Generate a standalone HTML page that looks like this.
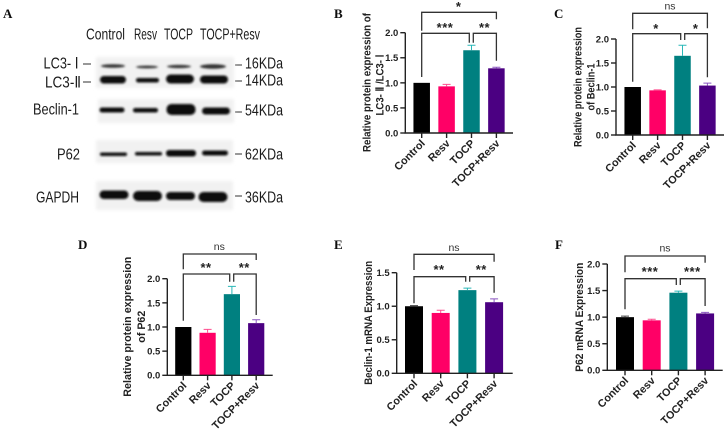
<!DOCTYPE html>
<html lang="en">
<head>
<meta charset="utf-8">
<title>Western blot and expression bar charts</title>
<style>
html,body{margin:0;padding:0;background:#fff;width:728px;height:429px;overflow:hidden}
svg{display:block}
text{font-family:"Liberation Sans",sans-serif}
.blot-label{font-family:"Liberation Sans Narrow","Liberation Sans",sans-serif;fill:#1a1a1a;font-size:16px;text-anchor:middle;dominant-baseline:central}
.letter{font-family:"Liberation Serif",serif;font-weight:bold;font-size:13px;fill:#111}
.tick{font-weight:bold;font-size:9.5px;fill:#222;text-anchor:end}
.cat{font-weight:bold;font-size:10.8px;fill:#222;text-anchor:end}
.title{font-weight:bold;font-size:11px;fill:#222;text-anchor:middle}
.sig{fill:#222;text-anchor:middle}
.ns{fill:#333;text-anchor:middle}
</style>
</head>
<body>
<svg id="figure" xmlns="http://www.w3.org/2000/svg" width="728" height="429" viewBox="0 0 728 429">
  <defs>
    <filter id="soft" x="-30%" y="-100%" width="160%" height="300%"><feGaussianBlur stdDeviation="1"/></filter>
    <filter id="halo" x="-10%" y="-20%" width="120%" height="140%"><feGaussianBlur stdDeviation="1.5"/></filter>
    <filter id="crisp" x="-5%" y="-5%" width="110%" height="110%"><feGaussianBlur stdDeviation="0.3"/></filter>
  </defs>

  <g id="panel-a" filter="url(#crisp)">
    <text class="letter" x="3" y="18">A</text>
    <g>
      <text class="blot-label" x="105.500" y="35" textLength="39" lengthAdjust="spacingAndGlyphs">Control</text>
      <text class="blot-label" x="145.500" y="35" textLength="23" lengthAdjust="spacingAndGlyphs">Resv</text>
      <text class="blot-label" x="178.500" y="35" textLength="29" lengthAdjust="spacingAndGlyphs">TOCP</text>
      <text class="blot-label" x="230" y="35" textLength="60" lengthAdjust="spacingAndGlyphs">TOCP+Resv</text>
    </g>
    <g>
      <text class="blot-label" x="61" y="64" textLength="35" lengthAdjust="spacingAndGlyphs">LC3- Ⅰ</text>
      <text class="blot-label" x="63" y="83" textLength="36" lengthAdjust="spacingAndGlyphs">LC3-Ⅱ</text>
      <text class="blot-label" x="56" y="110" textLength="46" lengthAdjust="spacingAndGlyphs">Beclin-1</text>
      <text class="blot-label" x="68.500" y="155" textLength="23" lengthAdjust="spacingAndGlyphs">P62</text>
      <text class="blot-label" x="57.500" y="198" textLength="43" lengthAdjust="spacingAndGlyphs">GAPDH</text>
    </g>
    <g>
      <text class="blot-label" x="264" y="64" textLength="38" lengthAdjust="spacingAndGlyphs">16KDa</text>
      <text class="blot-label" x="264" y="81" textLength="38" lengthAdjust="spacingAndGlyphs">14KDa</text>
      <text class="blot-label" x="264" y="111" textLength="38" lengthAdjust="spacingAndGlyphs">54KDa</text>
      <text class="blot-label" x="264" y="155" textLength="38" lengthAdjust="spacingAndGlyphs">62KDa</text>
      <text class="blot-label" x="264" y="198" textLength="38" lengthAdjust="spacingAndGlyphs">36KDa</text>
    </g>
    <g stroke="#333" stroke-width="1">
      <line x1="83" y1="64" x2="91" y2="64"/>
      <line x1="83" y1="82" x2="91" y2="82"/>
      <line x1="235" y1="65" x2="242" y2="65"/>
      <line x1="235" y1="81" x2="242" y2="81"/>
      <line x1="235" y1="112" x2="242" y2="112"/>
      <line x1="235" y1="154" x2="242" y2="154"/>
      <line x1="235" y1="196" x2="242" y2="196"/>
    </g>
    <g fill="#f1f1f1" filter="url(#halo)">
      <rect x="96" y="57" width="138" height="31"/>
      <rect x="98" y="99" width="136" height="24"/>
      <rect x="96" y="140" width="137" height="23"/>
      <rect x="96" y="181" width="137" height="29"/>
    </g>
    <g fill="#0c0c0c" filter="url(#soft)">
      <g fill="#333">
        <ellipse cx="113" cy="66" rx="12" ry="1.8"/>
        <ellipse cx="147" cy="67" rx="11" ry="1.4"/>
        <ellipse cx="179" cy="66.500" rx="12" ry="1.6"/>
        <ellipse cx="213" cy="66.500" rx="13" ry="2.3"/>
      </g>
      <g>
        <rect x="100" y="76" width="26" height="7.500" rx="3.700"/>
        <rect x="136" y="78" width="23" height="4.500" rx="2.200"/>
        <rect x="166" y="74.500" width="28" height="9" rx="4.500"/>
        <rect x="200" y="75.500" width="28" height="8" rx="4"/>
      </g>
      <g>
        <rect x="99.500" y="107.500" width="25" height="5" rx="2.500"/>
        <rect x="133" y="108" width="25" height="4.500" rx="2.200"/>
        <rect x="166.500" y="104" width="29" height="11" rx="5"/>
        <rect x="202" y="107.500" width="28" height="7" rx="3.500"/>
      </g>
      <g>
        <rect x="100" y="152.500" width="27" height="3.500" rx="1.700"/>
        <rect x="135" y="152" width="27" height="3.500" rx="1.700"/>
        <rect x="166" y="150" width="30" height="6.500" rx="3"/>
        <rect x="202" y="150.500" width="26" height="5" rx="2.500"/>
      </g>
      <g>
        <rect x="99.500" y="190.500" width="29" height="8.500" rx="4.200"/>
        <rect x="133" y="191" width="29" height="10" rx="5"/>
        <rect x="166" y="192" width="29" height="8" rx="4"/>
        <rect x="198.500" y="192" width="29" height="10" rx="5"/>
      </g>
    </g>
  </g>
  <g id="charts" filter="url(#crisp)"></g>
</svg>

<script>
// Shared categories
const categories = ['Control', 'Resv', 'TOCP', 'TOCP+Resv'];
const barColors = ['#000000', '#ff0066', '#008080', '#4b0082'];
const errorColors = ['#444444', '#ff4d8f', '#2bb8b8', '#8a55c0'];

// Panel B
const valuesB = [1.00, 0.93, 1.65, 1.29];
const errorsB = [0.00, 0.04, 0.10, 0.02];
const ticksB = [0, 0.5, 1.0, 1.5, 2.0];
// Panel C
const valuesC = [1.00, 0.93, 1.65, 1.03];
const errorsC = [0.00, 0.01, 0.22, 0.05];
const ticksC = [0, 0.5, 1.0, 1.5, 2.0];
// Panel D
const valuesD = [1.00, 0.88, 1.68, 1.08];
const errorsD = [0.00, 0.07, 0.16, 0.07];
const ticksD = [0, 0.5, 1.0, 1.5, 2.0];
// Panel E
const valuesE = [1.00, 0.90, 1.24, 1.06];
const errorsE = [0.01, 0.04, 0.03, 0.05];
const ticksE = [0, 0.5, 1.0, 1.5];
// Panel F
const valuesF = [1.00, 0.94, 1.46, 1.07];
const errorsF = [0.02, 0.02, 0.03, 0.02];
const ticksF = [0, 0.5, 1.0, 1.5, 2.0];

const panels = [
  {id:'b', letter:'B', lx:334, ly:18, values:valuesB, errors:errorsB, ticks:ticksB,
   axisX:405.3, y0:133, yTop:32.7, xEnd:513, first:421.7, step:24.9, bw:16.5,
   titles:[{t:'Relative protein expression of', x:370.5, c:82.5, len:139},{t:'LC3- Ⅱ /LC3- Ⅰ', x:383.5, c:85, len:61}],
   top:{y:12.3, l:30.7, r:19.3, label:'*', lx:458.7, ly:11},
   left:{y:33.3, x2:469.3, l:77, r:42.7, label:'***', lx:445, ly:32},
   right:{y:33.3, x1:473.3, l:42.7, r:60.7, label:'**', lx:484.5, ly:32}},
  {id:'c', letter:'C', lx:554, ly:18, values:valuesC, errors:errorsC, ticks:ticksC,
   axisX:616, y0:135, yTop:39, xEnd:724, first:632.7, step:24.9, bw:16.5,
   titles:[{t:'Relative protein expression', x:581.5, c:87, len:120},{t:'of Beclin-1', x:594.5, c:87, len:47}],
   top:{y:13.3, l:29.3, r:28.3, label:'ns', lx:670, ly:9.5},
   left:{y:33.7, x2:680.7, l:81.7, r:40, label:'*', lx:656, ly:33},
   right:{y:33.7, x1:684.7, l:40, r:77.3, label:'*', lx:695.7, ly:33}},
  {id:'d', letter:'D', lx:78, ly:249, values:valuesD, errors:errorsD, ticks:ticksD,
   axisX:167.3, y0:375.3, yTop:278.7, xEnd:272.7, first:183.3, step:24.3, bw:16.2,
   titles:[{t:'Relative protein expression', x:131, c:326.7, len:140},{t:'of P62', x:145, c:326.7, len:32}],
   top:{y:254, l:269.3, r:260, label:'ns', lx:219.3, ly:250},
   left:{y:274, x2:229.7, l:320.7, r:281.7, label:'**', lx:206, ly:272},
   right:{y:274, x1:233.7, l:281.7, r:315, label:'**', lx:244.3, ly:272}},
  {id:'e', letter:'E', lx:334, ly:249, values:valuesE, errors:errorsE, ticks:ticksE,
   axisX:396.7, y0:373.3, yTop:272.7, xEnd:512.7, first:414, step:26.7, bw:18,
   titles:[{t:'Beclin-1 mRNA Expression', x:372, c:322.8, len:124}],
   top:{y:254.3, l:270, r:261.7, label:'ns', lx:454, ly:251},
   left:{y:276.7, x2:465.7, l:303.3, r:281.7, label:'**', lx:439, ly:274},
   right:{y:276.7, x1:469.7, l:281.7, r:292.7, label:'**', lx:481.3, ly:274}},
  {id:'f', letter:'F', lx:555, ly:249, values:valuesF, errors:errorsF, ticks:ticksF,
   axisX:607.3, y0:370.3, yTop:264, xEnd:722.7, first:625, step:26.7, bw:18,
   titles:[{t:'P62 mRNA Expression', x:583, c:317.2, len:109}],
   top:{y:256, l:272.3, r:262.7, label:'ns', lx:665, ly:251.5},
   left:{y:278.7, x2:676.3, l:309.3, r:285, label:'***', lx:650, ly:276},
   right:{y:278.7, x1:680.3, l:285, r:306, label:'***', lx:692.3, ly:276}}
];

const NS = 'http://www.w3.org/2000/svg';
const root = document.getElementById('charts');

function make(tag, attrs, parent, text) {
  const el = document.createElementNS(NS, tag);
  for (const k in attrs) el.setAttribute(k, attrs[k]);
  if (text !== undefined) el.textContent = text;
  parent.appendChild(el);
  return el;
}

function bracketPath(x1, x2, y, yl, yr) {
  return 'M' + x1 + ' ' + yl + 'V' + y + 'H' + x2 + 'V' + yr;
}

function drawPanel(p) {
  const g = make('g', {}, root);
  
  

  const maxTick = p.ticks[p.ticks.length - 1];
  const yScale = v => p.y0 - (v / maxTick) * (p.y0 - p.yTop);
  const xScale = i => p.first + i * p.step;

  const letter = make('text', {class:'letter', x:p.lx, y:p.ly}, g, p.letter);
  
  

  p.titles.forEach((tt, i) => {
    const t = make('text', {class:'title', x:tt.x, y:tt.c, textLength:tt.len, lengthAdjust:'spacingAndGlyphs',
      transform:'rotate(-90 ' + tt.x + ' ' + tt.c + ')'}, g, tt.t);
    
    
  });

  categories.forEach((c, i) => {
    const cx = xScale(i), v = p.values[i], e = p.errors[i];
    const yv = yScale(v);
    const bar = make('rect', {x:cx - p.bw / 2, y:yv, width:p.bw, height:p.y0 - yv, fill:barColors[i]}, g);
    
    
    if (e > 0) {
      const ye = yScale(v + e);
      const err = make('path', {d:'M' + cx + ' ' + yv + 'V' + ye + 'M' + (cx - 4) + ' ' + ye + 'H' + (cx + 4),
        stroke:errorColors[i], 'stroke-width':1, fill:'none'}, g);
      
      
    }
  });

  const axis = make('path', {d:'M' + p.axisX + ' ' + p.yTop + 'V' + p.y0 + 'H' + p.xEnd, stroke:'#222', 'stroke-width':1.4, fill:'none'}, g);
  
  

  p.ticks.forEach(tv => {
    const y = yScale(tv);
    const tm = make('line', {x1:p.axisX - 5, x2:p.axisX, y1:y, y2:y, stroke:'#222', 'stroke-width':1.4}, g);
    
    
    const tl = make('text', {class:'tick', x:p.axisX - 7, y:y + 3.4}, g, tv.toFixed(1));
    
    
  });

  categories.forEach((c, i) => {
    const cx = xScale(i);
    const tm = make('line', {x1:cx, x2:cx, y1:p.y0, y2:p.y0 + 5, stroke:'#222', 'stroke-width':1.4}, g);
    
    
    const ax = cx + 4, ay = p.y0 + 11;
    const tl = make('text', {class:'cat', x:ax, y:ay, transform:'rotate(-45 ' + ax + ' ' + ay + ')'}, g, c);
    
    
  });

  const x0 = xScale(0), x3 = xScale(3);
  const specs = [
    {d:bracketPath(x0, x3, p.top.y, p.top.l, p.top.r), s:p.top, n:'top'},
    {d:bracketPath(x0, p.left.x2, p.left.y, p.left.l, p.left.r), s:p.left, n:'left'},
    {d:bracketPath(p.right.x1, x3, p.right.y, p.right.l, p.right.r), s:p.right, n:'right'}
  ];
  specs.forEach(sp => {
    const b = make('path', {d:sp.d, stroke:'#333', 'stroke-width':1.3, fill:'none'}, g);
    
    
    const isNs = sp.s.label === 'ns';
    const l = make('text', {class:isNs ? 'ns' : 'sig', x:sp.s.lx, y:sp.s.ly, 'font-weight':isNs ? 'normal' : 'bold',
      'font-size':isNs ? 10.5 : 13, 'letter-spacing':isNs ? 0 : 0.5}, g, sp.s.label);
    
    
  });
}

panels.forEach(drawPanel);
</script>
</body>
</html>
